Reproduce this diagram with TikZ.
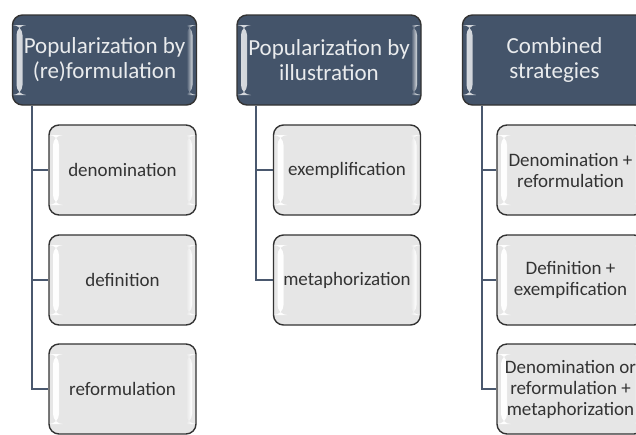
\documentclass[tikz,border=0pt]{standalone}
\usepackage{fontspec}
\setmainfont{Carlito}

\definecolor{hdblue}{HTML}{44546A}
\definecolor{boxgray}{HTML}{E6E6E6}
\definecolor{linkblue}{HTML}{4A586E}

\begin{document}
\begin{tikzpicture}[x=0.5pt, y=-0.5pt,
    header/.style={draw=black!80, line width=0.7pt, rounded corners=5pt, fill=hdblue,
        minimum width=92pt, minimum height=45pt, inner sep=0pt, align=center,
        text=white!88!hdblue, font=\fontsize{11.5}{12.5}\selectfont,
        path picture={
            \shade[left color=white!80!hdblue, right color=hdblue]
                ([xshift=2pt,yshift=-5pt]path picture bounding box.north west)
                rectangle ([xshift=5pt,yshift=5pt]path picture bounding box.south west);
            \shade[left color=hdblue, right color=white!80!hdblue]
                ([xshift=-5pt,yshift=-5pt]path picture bounding box.north east)
                rectangle ([xshift=-2pt,yshift=5pt]path picture bounding box.south east);
        }},
    item/.style={draw=black!80, line width=0.7pt, rounded corners=5pt, fill=boxgray,
        minimum width=73.5pt, minimum height=45pt, inner sep=0pt, align=center,
        text=black!80, font=\fontsize{9.5}{10.5}\selectfont,
        path picture={
            \shade[left color=white, right color=boxgray]
                ([xshift=2pt,yshift=-5pt]path picture bounding box.north west)
                rectangle ([xshift=5pt,yshift=5pt]path picture bounding box.south west);
            \shade[left color=boxgray, right color=white]
                ([xshift=-5pt,yshift=-5pt]path picture bounding box.north east)
                rectangle ([xshift=-2pt,yshift=5pt]path picture bounding box.south east);
        }},
    link/.style={draw=linkblue, line width=1pt}]

    % 1. Khung ảnh
    \clip (0,0) rectangle (636,434);

    % 2. Ba ô tiêu đề
    \node[header] (prf) at (104.5,60) {Popularization by\\(re)formulation};
    \node[header] (pil) at (329,60) {Popularization by\\illustration};
    \node[header] (cst) at (554.5,60) {Combined\\strategies};

    % 3. Các ô con của từng cột
    \node[item] (den) at (122.5,170) {denomination};
    \node[item] (def) at (122.5,280) {definition};
    \node[item] (ref) at (122.5,389) {reformulation};

    \node[item] (exe) at (347,170) {exemplification};
    \node[item] (met) at (347,280) {metaphorization};

    \node[item] (dnr) at (570.5,170) {Denomination +\\reformulation};
    \node[item] (dfe) at (570.5,280) {Definition +\\exempification};
    \node[item] (drm) at (570.5,389) {Denomination or\\reformulation +\\metaphorization};

    % 4. Đường nối tiêu đề với ô con
    \draw[link] ([xshift=10pt]prf.south west) |- (den.west);
    \draw[link] ([xshift=10pt]prf.south west) |- (def.west);
    \draw[link] ([xshift=10pt]prf.south west) |- (ref.west);

    \draw[link] ([xshift=10pt]pil.south west) |- (exe.west);
    \draw[link] ([xshift=10pt]pil.south west) |- (met.west);

    \draw[link] ([xshift=10pt]cst.south west) |- (dnr.west);
    \draw[link] ([xshift=10pt]cst.south west) |- (dfe.west);
    \draw[link] ([xshift=10pt]cst.south west) |- (drm.west);

\end{tikzpicture}
\end{document}
